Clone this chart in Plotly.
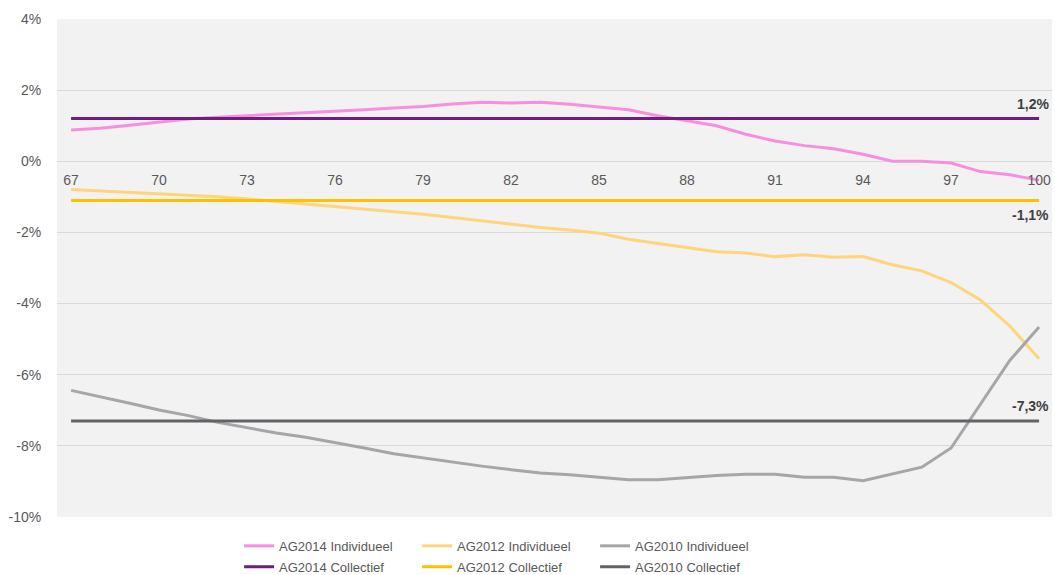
import plotly.graph_objects as go

# Leeftijden (x-as)
ages = list(range(67, 101))

# Individuele verschillen per leeftijd (in %)
ag2014_ind = [0.88, 0.93, 1.01, 1.11, 1.19, 1.24, 1.28, 1.32, 1.35, 1.39, 1.45, 1.50,
              1.54, 1.61, 1.66, 1.64, 1.66, 1.60, 1.52, 1.45, 1.28, 1.15, 1.00, 0.76,
              0.57, 0.44, 0.35, 0.20, 0.00, 0.00, -0.05, -0.29, -0.38, -0.53]
ag2012_ind = [-0.79, -0.83, -0.86, -0.90, -0.94, -1.00, -1.06, -1.13, -1.20, -1.27,
              -1.34, -1.41, -1.49, -1.58, -1.68, -1.77, -1.86, -1.93, -2.02, -2.19,
              -2.30, -2.43, -2.54, -2.58, -2.68, -2.63, -2.70, -2.68, -2.91, -3.08,
              -3.41, -3.90, -4.63, -5.55]
ag2010_ind = [-6.44, -6.61, -6.80, -6.99, -7.15, -7.34, -7.50, -7.64, -7.76, -7.90,
              -8.06, -8.22, -8.34, -8.46, -8.57, -8.67, -8.76, -8.81, -8.88, -8.95,
              -8.95, -8.88, -8.83, -8.80, -8.80, -8.88, -8.88, -8.98, -8.80, -8.60,
              -8.06, -6.83, -5.60, -4.66]

# Collectieve verschillen (constant)
ag2014_col = 1.2
ag2012_col = -1.1
ag2010_col = -7.3

# As-labels
x_ticks = list(range(67, 101, 3))
y_ticks = list(range(-10, 5, 2))
y_ticktext = [f"{v}%" for v in y_ticks]

GREY_TEXT = "#595959"
FONT = "Liberation Sans, Arial, sans-serif"

individual = [
    ("AG2014 Individueel", ag2014_ind, "#F78FE0"),
    ("AG2012 Individueel", ag2012_ind, "#FFD47A"),
    ("AG2010 Individueel", ag2010_ind, "#A5A6A8"),
]
collective = [
    ("AG2014 Collectief", ag2014_col, "#6F1E7E", 15),
    ("AG2012 Collectief", ag2012_col, "#FFC000", -15),
    ("AG2010 Collectief", ag2010_col, "#626366", 15),
]

fig = go.Figure()

for name, vals, color in individual:
    fig.add_trace(go.Scatter(
        x=ages, y=vals, name=name, mode="lines",
        line=dict(color=color, width=3), legend="legend",
    ))

for name, val, color, shift in collective:
    fig.add_trace(go.Scatter(
        x=ages, y=[val] * len(ages), name=name, mode="lines",
        line=dict(color=color, width=3), legend="legend2",
    ))
    fig.add_annotation(
        x=1, xref="paper", y=val, yref="y",
        text="<b>" + f"{val:.1f}".replace(".", ",") + "%</b>",
        showarrow=False, xanchor="right", yanchor="middle",
        xshift=-1, yshift=shift,
        font=dict(family=FONT, size=14, color="#404040"),
    )

# y = 0 ligt op (0 - (-10)) / 14 van de hoogte van het plotvlak
zero_pos = (0 - y_ticks[0]) / (y_ticks[-1] - y_ticks[0])

legend_common = dict(
    orientation="h", xanchor="left", yanchor="middle",
    font=dict(family=FONT, size=13, color=GREY_TEXT),
    bgcolor="rgba(0,0,0,0)", itemwidth=30, entrywidth=133,
    traceorder="normal",
)

fig.update_layout(
    width=1055, height=575,
    margin=dict(l=57, r=3, t=19, b=58, autoexpand=False),
    paper_bgcolor="white",
    plot_bgcolor="#F2F2F2",
    font=dict(family=FONT, size=13, color=GREY_TEXT),
    showlegend=True,
    legend=dict(x=0.183, y=-0.058, **legend_common),
    legend2=dict(x=0.183, y=-0.1, **legend_common),
    xaxis=dict(
        range=[66.52, 100.44], tickvals=x_ticks,
        anchor="free", position=zero_pos,
        showgrid=False, zeroline=False, showline=False,
        ticks="outside", ticklen=6, tickcolor="rgba(0,0,0,0)",
        tickfont=dict(family=FONT, size=14, color=GREY_TEXT),
    ),
    yaxis=dict(
        range=[-10, 4], tickvals=y_ticks, ticktext=y_ticktext,
        showgrid=True, gridcolor="#D9D9D9", gridwidth=1,
        zeroline=True, zerolinecolor="#D9D9D9", zerolinewidth=1,
        showline=False,
        ticks="outside", ticklen=12, tickcolor="rgba(0,0,0,0)",
        tickfont=dict(family=FONT, size=14, color=GREY_TEXT),
    ),
)

fig.write_html("out.html")
